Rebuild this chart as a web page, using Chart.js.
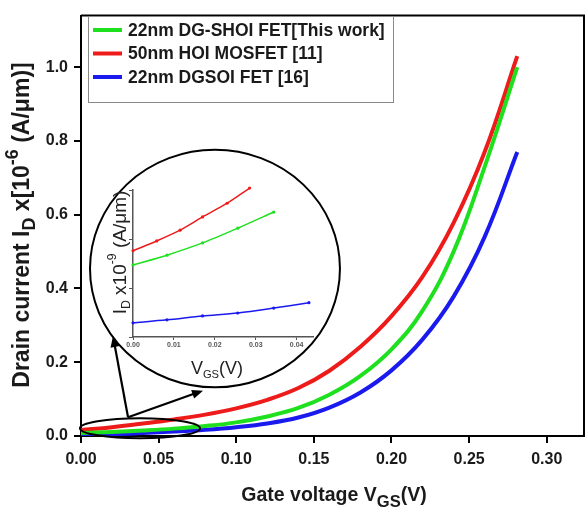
<!DOCTYPE html>
<html>
<head>
<meta charset="utf-8">
<script src="https://cdn.jsdelivr.net/npm/chart.js@4/dist/chart.umd.min.js"></script>
<style>
  html,body{margin:0;padding:0;background:#fff;}
  #wrap{position:relative;width:585px;height:514px;}
  #main{position:absolute;left:0;top:0;}
  #inset{position:absolute;left:100px;top:170px;}
</style>
</head>
<body>
<div id="wrap">
  <canvas id="main" width="585" height="514"></canvas>
  <canvas id="inset" width="230" height="210"></canvas>
</div>
<script>
// ---------- main chart data ----------
const vgs = [0, 0.02, 0.04, 0.06, 0.08, 0.10, 0.12, 0.14, 0.16, 0.18, 0.20, 0.22, 0.24, 0.26, 0.281];
const idShoi = [0.008, 0.011, 0.015, 0.020, 0.027, 0.037, 0.053, 0.076, 0.112, 0.163, 0.235, 0.340, 0.50, 0.73, 1.0];
const idHoi  = [0.016, 0.024, 0.034, 0.045, 0.058, 0.075, 0.098, 0.130, 0.177, 0.242, 0.325, 0.432, 0.578, 0.77, 1.03];
const idDgsoi= [0.003, 0.005, 0.008, 0.012, 0.017, 0.024, 0.034, 0.050, 0.077, 0.118, 0.178, 0.262, 0.378, 0.54, 0.77];
const seriesLabels = ['22nm DG-SHOI FET[This work]', '50nm HOI MOSFET [11]', '22nm DGSOI FET [16]'];
const xTicks = [0, 0.05, 0.10, 0.15, 0.20, 0.25, 0.30];
const yTicks = [0, 0.2, 0.4, 0.6, 0.8, 1.0];

// ---------- inset data ----------
const insetVgsHoi   = [0, 0.0058, 0.0115, 0.017, 0.023, 0.0285];
const insetIdHoi    = [1.76, 1.96, 2.18, 2.45, 2.73, 3.04];
const insetVgsShoi  = [0, 0.0083, 0.017, 0.0256, 0.0344];
const insetIdShoi   = [1.47, 1.67, 1.92, 2.22, 2.55];
const insetVgsDgsoi = [0, 0.0083, 0.017, 0.0256, 0.0344, 0.043];
const insetIdDgsoi  = [0.29, 0.35, 0.43, 0.49, 0.59, 0.70];
const insetXTicks = [0, 0.01, 0.02, 0.03, 0.04];

const colors = ['#1fe01f', '#ee1b1b', '#1a1aee'];
const FONT = "'Liberation Sans', Arial, sans-serif";

function pts(xs, ys){ return xs.map((x,i)=>({x:x, y:ys[i]})); }

function drawRich(ctx, parts, cx, cy, angle, size, weight, color, subScale){
  subScale = subScale || 0.78;
  ctx.save();
  ctx.translate(cx, cy);
  ctx.rotate(angle);
  ctx.fillStyle = color;
  ctx.textBaseline = 'middle';
  ctx.textAlign = 'left';
  let total = 0;
  const meas = parts.map(p=>{
    const s = (p.sub||p.sup) ? size*subScale : size;
    ctx.font = weight + ' ' + s + 'px ' + FONT;
    const w = ctx.measureText(p.t).width;
    total += w;
    return {s:s, w:w};
  });
  let x = -total/2;
  parts.forEach((p,i)=>{
    const m = meas[i];
    ctx.font = weight + ' ' + m.s + 'px ' + FONT;
    let dy = 0;
    if (p.sub) dy = size*0.32;
    if (p.sup) dy = -size*0.45;
    ctx.fillText(p.t, x, dy);
    x += m.w;
  });
  ctx.restore();
}

function arrow(ctx, x0, y0, x1, y1){
  const a = Math.atan2(y1-y0, x1-x0);
  const L = 11, W = 4.5;
  ctx.beginPath();
  ctx.moveTo(x0, y0);
  ctx.lineTo(x1 - Math.cos(a)*L*0.8, y1 - Math.sin(a)*L*0.8);
  ctx.stroke();
  ctx.beginPath();
  ctx.moveTo(x1, y1);
  ctx.lineTo(x1 - Math.cos(a)*L + Math.sin(a)*W, y1 - Math.sin(a)*L - Math.cos(a)*W);
  ctx.lineTo(x1 - Math.cos(a)*L - Math.sin(a)*W, y1 - Math.sin(a)*L + Math.cos(a)*W);
  ctx.closePath();
  ctx.fill();
}

const mainPlugin = {
  id: 'mainDecor',
  beforeDraw(chart){
    const ctx = chart.ctx;
    ctx.save(); ctx.fillStyle = '#fff'; ctx.fillRect(0,0,chart.width,chart.height); ctx.restore();
  },
  afterDraw(chart){
    const ctx = chart.ctx, xs = chart.scales.x, ys = chart.scales.y, ca = chart.chartArea;
    ctx.save();
    // frame top/right
    ctx.strokeStyle = '#000'; ctx.lineWidth = 2;
    ctx.beginPath();
    ctx.moveTo(ca.left, ca.top); ctx.lineTo(ca.right, ca.top); ctx.lineTo(ca.right, ca.bottom);
    ctx.stroke();
    // zoom circle
    const cx = xs.getPixelForValue(0.0863), cy = ys.getPixelForValue(0.454);
    const rx = xs.getPixelForValue(0.0863+0.0805) - cx, ry = cy - ys.getPixelForValue(0.454+0.322);
    ctx.beginPath(); ctx.ellipse(cx, cy, rx, ry, 0, 0, Math.PI*2);
    ctx.fillStyle = '#fff'; ctx.fill();
    ctx.lineWidth = 2; ctx.strokeStyle = '#000'; ctx.stroke();
    // small ellipse near origin
    const ex = xs.getPixelForValue(0.038), ey = ys.getPixelForValue(0.021);
    const erx = xs.getPixelForValue(0.038+0.0387) - ex, ery = ey - ys.getPixelForValue(0.021+0.027);
    ctx.beginPath(); ctx.ellipse(ex, ey, erx, ery, 0, 0, Math.PI*2);
    ctx.stroke();
    // arrows
    ctx.fillStyle = '#000'; ctx.lineWidth = 2.2;
    const ax = xs.getPixelForValue(0.0303), ay = ys.getPixelForValue(0.051);
    arrow(ctx, ax, ay, xs.getPixelForValue(0.0206), ys.getPixelForValue(0.271));
    arrow(ctx, ax, ay, xs.getPixelForValue(0.0786), ys.getPixelForValue(0.123));
    // legend box
    ctx.lineWidth = 1; ctx.strokeStyle = '#8a8a8a';
    ctx.strokeRect(88.5, 16.5, 305, 86);
    chart.data.datasets.forEach((ds, i)=>{
      const yy = 30 + i*23.5;
      ctx.strokeStyle = ds.borderColor; ctx.lineWidth = 4; ctx.lineCap = 'butt';
      ctx.beginPath(); ctx.moveTo(93, yy); ctx.lineTo(122, yy); ctx.stroke();
      ctx.fillStyle = '#1a1a1a'; ctx.font = 'bold 17.5px ' + FONT;
      ctx.textBaseline = 'middle'; ctx.textAlign = 'left';
      ctx.fillText(ds.label, 128, yy + 1);
    });
    // axis titles
    drawRich(ctx, [{t:'Drain current I'},{t:'D',sub:true},{t:' x[10'},{t:'-6',sup:true},{t:' (A/\u03bcm)]'}],
      23, 225, -Math.PI/2, 23, 'bold', '#1a1a1a');
    drawRich(ctx, [{t:'Gate voltage V'},{t:'GS',sub:true},{t:'(V)'}],
      334, 496, 0, 19.5, 'bold', '#1a1a1a', 0.85);
    ctx.restore();
  }
};

new Chart(document.getElementById('main'), {
  type: 'line',
  data: {
    datasets: [
      {label: seriesLabels[0], data: pts(vgs, idShoi), borderColor: colors[0]},
      {label: seriesLabels[1], data: pts(vgs, idHoi), borderColor: colors[1]},
      {label: seriesLabels[2], data: pts(vgs, idDgsoi), borderColor: colors[2]}
    ].map(d=>Object.assign(d, {borderWidth: 4, pointRadius: 0, fill: false, tension: 0.4}))
  },
  options: {
    responsive: false, animation: false, devicePixelRatio: 1,
    layout: {padding: {top: 11, right: 1, left: 0, bottom: 0}},
    plugins: {legend: {display: false}, tooltip: {enabled: false}},
    scales: {
      x: {
        type: 'linear', min: 0, max: 0.324,
        afterFit(s){ s.height = 78; },
        afterBuildTicks(s){ s.ticks = xTicks.map(v=>({value:v})); },
        ticks: {callback: v=>v.toFixed(2), color: '#1a1a1a', font: {family: FONT, size: 16, weight: 'bold'}, padding: 7, maxRotation: 0},
        grid: {drawOnChartArea: false, drawTicks: true, tickLength: 7, color: '#000', lineWidth: 2},
        border: {display: true, color: '#000', width: 2}
      },
      y: {
        type: 'linear', min: 0, max: 1.14,
        afterFit(s){ s.width = 81; },
        afterBuildTicks(s){ s.ticks = yTicks.map(v=>({value:v})); },
        ticks: {callback: v=>v.toFixed(1), color: '#1a1a1a', font: {family: FONT, size: 16, weight: 'bold'}, padding: 6},
        grid: {drawOnChartArea: false, drawTicks: true, tickLength: 7, color: '#000', lineWidth: 2},
        border: {display: true, color: '#000', width: 2}
      }
    }
  },
  plugins: [mainPlugin]
});

// ---------- inset chart ----------
const insetPlugin = {
  id: 'insetDecor',
  afterDraw(chart){
    const ctx = chart.ctx, ca = chart.chartArea;
    drawRich(ctx, [{t:'I'},{t:'D',sub:true},{t:' x10'},{t:'-9',sup:true},{t:' (A/\u03bcm)'}],
      ca.left - 12, (ca.top+ca.bottom)/2 - 11, -Math.PI/2, 19, 'normal', '#222', 0.65);
    drawRich(ctx, [{t:'V'},{t:'GS',sub:true},{t:'(V)'}],
      ca.left + 84, ca.bottom + 32, 0, 18, 'normal', '#222', 0.62);
  }
};

new Chart(document.getElementById('inset'), {
  type: 'line',
  data: {
    datasets: [
      {label: seriesLabels[0], data: pts(insetVgsShoi, insetIdShoi), borderColor: colors[0], backgroundColor: colors[0]},
      {label: seriesLabels[1], data: pts(insetVgsHoi, insetIdHoi), borderColor: colors[1], backgroundColor: colors[1]},
      {label: seriesLabels[2], data: pts(insetVgsDgsoi, insetIdDgsoi), borderColor: colors[2], backgroundColor: colors[2]}
    ].map(d=>Object.assign(d, {borderWidth: 1.5, pointRadius: 1.6, pointBorderWidth: 0, fill: false, tension: 0.3, clip: false}))
  },
  options: {
    responsive: false, animation: false, devicePixelRatio: 1,
    layout: {padding: {top: 20, right: 17, left: 0, bottom: 0}},
    plugins: {legend: {display: false}, tooltip: {enabled: false}},
    scales: {
      x: {
        type: 'linear', min: 0, max: 0.044,
        afterFit(s){ s.height = 43; },
        afterBuildTicks(s){ s.ticks = insetXTicks.map(v=>({value:v})); },
        ticks: {callback: v=>v.toFixed(2), color: '#555', font: {family: FONT, size: 7, weight: 'bold'}, padding: 1, maxRotation: 0},
        grid: {drawOnChartArea: false, drawTicks: true, tickLength: 3, color: '#555', lineWidth: 1},
        border: {display: true, color: '#555', width: 1.5}
      },
      y: {
        type: 'linear', min: 0, max: 3,
        afterFit(s){ s.width = 33; },
        afterBuildTicks(s){ s.ticks = [0,1,2,3].map(v=>({value:v})); },
        ticks: {display: false},
        grid: {drawOnChartArea: false, drawTicks: true, tickLength: 4, color: '#555', lineWidth: 1},
        border: {display: true, color: '#555', width: 1.5}
      }
    }
  },
  plugins: [insetPlugin]
});
</script>
</body>
</html>
